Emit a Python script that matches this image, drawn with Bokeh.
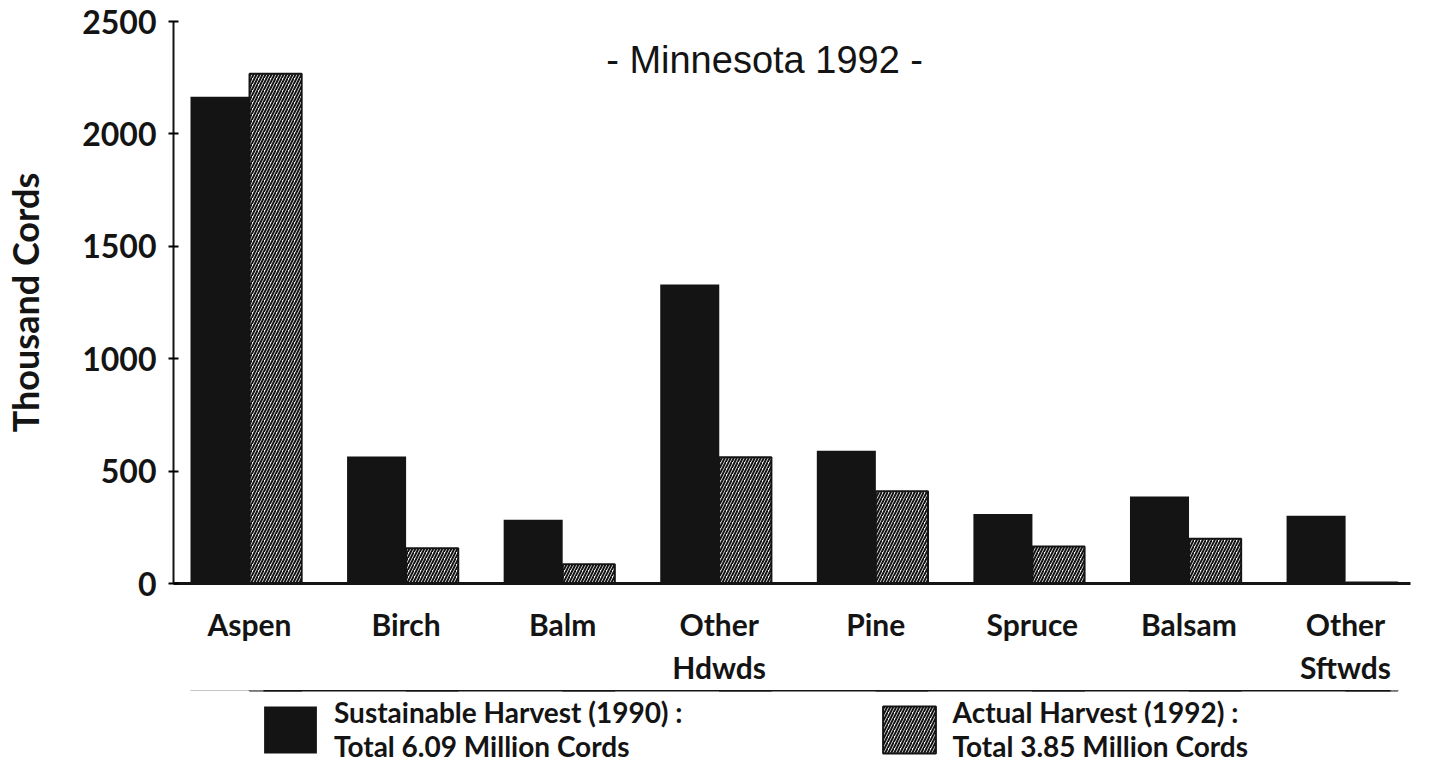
from bokeh.plotting import figure
from bokeh.layouts import column
from bokeh.models import (Range1d, FixedTicker, LinearAxis, Legend, LegendItem, Label)
from bokeh.embed import file_html
from bokeh.resources import INLINE

# ---- data ----
categories = ["Aspen", "Birch", "Balm", "Other\nHdwds", "Pine", "Spruce", "Balsam", "Other\nSftwds"]
sustainable_1990 = [2165, 565, 284, 1330, 591, 309, 387, 301]
actual_1992 = [2268, 157, 86, 562, 410, 165, 199, 5]
y_ticks = [0, 500, 1000, 1500, 2000, 2500]
title_text = "- Minnesota 1992 -"
y_label = "Thousand Cords"
legend_labels = ["Sustainable Harvest (1990) :\nTotal 6.09 Million Cords",
                 "Actual Harvest (1992) :\nTotal 3.85 Million Cords"]

xs = list(range(len(categories)))
x_black = [x - 0.188 for x in xs]
x_hatch = [x + 0.167 for x in xs]

FONT = "Lato"
INK = "#141414"

black_style = dict(fill_color=INK, line_color=None)
hatch_style = dict(fill_color="white", line_color=INK, line_width=2,
                   hatch_pattern="/", hatch_color=INK, hatch_scale=6, hatch_weight=2)

xr = Range1d(-0.485, 7.415)

p = figure(width=1427, height=690, output_backend="svg", toolbar_location=None,
           x_range=xr, y_range=Range1d(0, 2500),
           min_border_left=172, min_border_right=17, min_border_top=21, min_border_bottom=107)
p.outline_line_color = None
p.grid.grid_line_color = None

r1 = p.vbar(x=x_black, top=sustainable_1990, width=0.377, bottom=0, **black_style)
r2 = p.vbar(x=x_hatch, top=actual_1992, width=0.333, bottom=0, **hatch_style)

# y axis
ya = p.yaxis[0]
ya.ticker = FixedTicker(ticks=y_ticks)
ya.minor_tick_line_color = None
ya.major_tick_in = 5
ya.major_tick_out = 5
ya.major_tick_line_width = 2
ya.axis_line_width = 2
ya.axis_line_color = INK
ya.major_label_text_font = FONT
ya.major_label_text_font_style = "bold"
ya.major_label_text_font_size = "32px"
ya.major_label_text_color = INK
ya.major_label_standoff = 12
ya.axis_label = y_label
ya.axis_label_text_font = FONT
ya.axis_label_text_font_style = "bold"
ya.axis_label_text_font_size = "36px"
ya.axis_label_text_color = INK
ya.axis_label_standoff = 32

# x axis
xa = p.xaxis[0]
xa.ticker = FixedTicker(ticks=xs)
xa.major_label_overrides = {i: c for i, c in enumerate(categories)}
xa.major_tick_line_color = None
xa.minor_tick_line_color = None
xa.axis_line_width = 3
xa.axis_line_color = INK
xa.major_label_text_font = FONT
xa.major_label_text_font_style = "bold"
xa.major_label_text_font_size = "30px"
xa.major_label_text_color = INK
xa.major_label_standoff = 16

title = Label(x=3.29, y=2330, text=title_text, text_align="center", text_baseline="middle",
              text_font="Liberation Sans", text_font_size="38px", text_color=INK)
p.add_layout(title)

# ---- legend panel ----
p2 = figure(width=1427, height=80, output_backend="svg", toolbar_location=None,
            x_range=xr, y_range=Range1d(-2, -1), x_axis_type=None, y_axis_type=None,
            min_border_left=172, min_border_right=17, min_border_top=0, min_border_bottom=0)
p2.outline_line_color = None
p2.grid.grid_line_color = None

# same series, drawn outside this panel's visible range: only their legend swatches show
lr1 = p2.vbar(x=x_black, top=sustainable_1990, width=0.377, bottom=0, **black_style)
lr2 = p2.vbar(x=x_hatch, top=actual_1992, width=0.333, bottom=0, **hatch_style)

sep = LinearAxis(ticker=FixedTicker(ticks=[]), bounds=(0.09, 7.29))
sep.axis_line_width = 2
sep.axis_line_color = INK
sep.major_tick_line_color = None
sep.minor_tick_line_color = None
sep.major_label_text_font_size = "0px"
sep.major_label_standoff = 0
sep.major_tick_out = 0
sep.major_tick_in = 0
p2.add_layout(sep, "above")

legend = Legend(items=[LegendItem(label=legend_labels[0], renderers=[lr1]),
                       LegendItem(label=legend_labels[1], renderers=[lr2])],
                orientation="horizontal", location=(84, 7),
                glyph_width=66, glyph_height=59, label_standoff=11, spacing=193,
                padding=0, margin=0, border_line_color=None, background_fill_alpha=0,
                label_text_font=FONT, label_text_font_style="bold",
                label_text_font_size="28px", label_text_line_height=1.0,
                label_text_color=INK)
p2.add_layout(legend, "center")

layout = column(p, p2, spacing=0)

open("out.html", "w").write(file_html(layout, INLINE))
